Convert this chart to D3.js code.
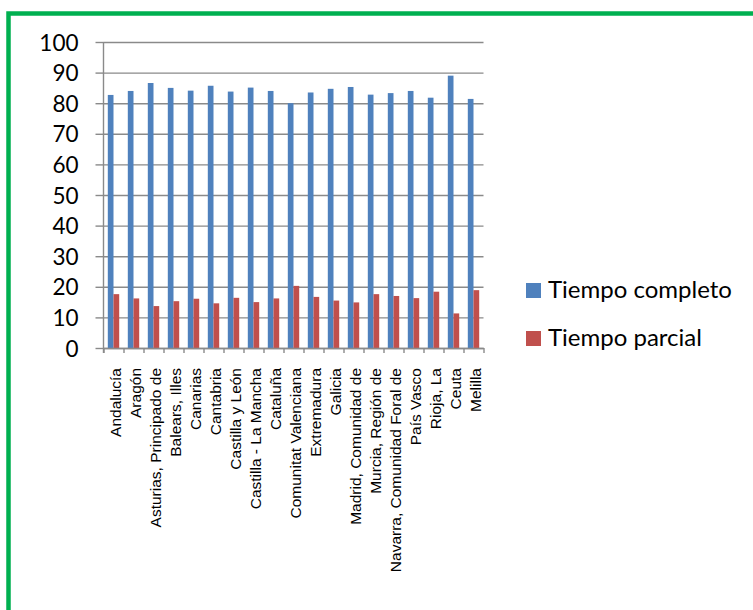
<!DOCTYPE html>
<html>
<head>
<meta charset="utf-8">
<script src="https://cdn.jsdelivr.net/npm/d3@7"></script>
<style>
  html, body { margin: 0; padding: 0; background: #fff; }
  svg { display: block; }
</style>
</head>
<body>
<svg id="chart" width="753" height="610"></svg>
<script>
// Regions (comunidades autónomas) and the share of each contract type (%)
const regions = [
  "Andalucía", "Aragón", "Asturias, Principado de", "Balears, Illes", "Canarias",
  "Cantabria", "Castilla y León", "Castilla - La Mancha", "Cataluña",
  "Comunitat Valenciana", "Extremadura", "Galicia", "Madrid, Comunidad de",
  "Murcia, Región de", "Navarra, Comunidad Foral de", "País Vasco", "Rioja, La",
  "Ceuta", "Melilla"
];
const tiempoCompleto = [82.7, 84.0, 86.6, 85.0, 84.1, 85.7, 83.8, 85.1, 84.0,
  80.0, 83.5, 84.7, 85.3, 82.8, 83.3, 84.0, 81.8, 89.0, 81.4];
const tiempoParcial = [17.6, 16.2, 13.7, 15.3, 16.1, 14.6, 16.4, 15.0, 16.2,
  20.3, 16.7, 15.5, 14.9, 17.6, 17.0, 16.3, 18.4, 11.3, 18.9];
const seriesNames = ["Tiempo completo", "Tiempo parcial"];
const seriesColors = ["#4F81BD", "#C0504D"];
const yTicks = [0, 10, 20, 30, 40, 50, 60, 70, 80, 90, 100];

const rows = regions.map((r, i) => ({ region: r, values: [tiempoCompleto[i], tiempoParcial[i]] }));

const svg = d3.select("#chart");

// green frame around the chart
svg.append("rect")
  .attr("x", 8.5).attr("y", 13.5)
  .attr("width", 800).attr("height", 700)
  .attr("fill", "none")
  .attr("stroke", "#00B050")
  .attr("stroke-width", 4.5);

const plotLeft = 103.5, plotRight = 483.5, plotTop = 42, plotBottom = 348;

const x = d3.scaleBand().domain(regions).range([plotLeft, plotRight]).paddingInner(0).paddingOuter(0);
const bw = x.bandwidth();
const xs = d3.scaleBand().domain(seriesNames).range([bw * 0.215, bw * 0.785]);
const y = d3.scaleLinear().domain([0, 100]).range([plotBottom, plotTop]);

const gridColor = "#8a8a8a";

// horizontal gridlines
svg.append("g")
  .attr("transform", `translate(${plotLeft},0)`)
  .call(d3.axisLeft(y).tickValues(yTicks).tickSize(-(plotRight - plotLeft)).tickFormat(""))
  .call(g => g.select(".domain").remove())
  .call(g => g.selectAll(".tick line").attr("stroke", gridColor).attr("stroke-width", 1.4));

// value axis with outward tick marks and labels
const yAxis = svg.append("g")
  .attr("transform", `translate(${plotLeft},0)`)
  .call(d3.axisLeft(y).tickValues(yTicks).tickSize(8).tickSizeOuter(0).tickPadding(17));
yAxis.select(".domain").remove();
yAxis.selectAll(".tick line").attr("stroke", gridColor).attr("stroke-width", 1.4);
yAxis.selectAll(".tick text")
  .attr("font-family", "Lato, Carlito, Calibri, sans-serif")
  .attr("font-size", 22.5)
  .attr("fill", "#000")
  .attr("dy", "0.36em");

// vertical axis line
svg.append("line")
  .attr("x1", plotLeft).attr("x2", plotLeft)
  .attr("y1", plotTop).attr("y2", plotBottom + 5)
  .attr("stroke", gridColor).attr("stroke-width", 1.4);

// bars
const groups = svg.append("g").selectAll("g")
  .data(rows)
  .join("g")
  .attr("transform", d => `translate(${x(d.region)},0)`);

groups.selectAll("rect")
  .data(d => d.values.map((v, j) => ({ key: seriesNames[j], value: v, color: seriesColors[j] })))
  .join("rect")
  .attr("x", d => xs(d.key))
  .attr("width", xs.bandwidth())
  .attr("y", d => y(d.value))
  .attr("height", d => y(0) - y(d.value))
  .attr("fill", d => d.color);

// category axis: tick marks at category boundaries
const xb = d3.scaleLinear().domain([0, regions.length]).range([plotLeft, plotRight]);
const xAxis = svg.append("g")
  .attr("transform", `translate(0,${plotBottom})`)
  .call(d3.axisBottom(xb).tickValues(d3.range(regions.length + 1)).tickSize(5).tickSizeOuter(0).tickFormat(""));
xAxis.select(".domain").attr("stroke", gridColor).attr("stroke-width", 1.4);
xAxis.selectAll(".tick line").attr("stroke", gridColor).attr("stroke-width", 1.4);

// rotated category labels
svg.append("g").selectAll("text")
  .data(regions)
  .join("text")
  .attr("transform", d => `translate(${x(d) + bw / 2},368) rotate(-90)`)
  .attr("x", 0)
  .attr("y", 7.5)
  .attr("text-anchor", "end")
  .attr("font-family", "Liberation Sans, Arial, sans-serif")
  .attr("font-size", 15.5)
  .attr("fill", "#000")
  .text(d => d);

// legend
const legend = svg.append("g").selectAll("g")
  .data(seriesNames)
  .join("g")
  .attr("transform", (d, i) => `translate(526,${283 + i * 48})`);
legend.append("rect")
  .attr("width", 15).attr("height", 15)
  .attr("fill", (d, i) => seriesColors[i]);
legend.append("text")
  .attr("x", 22)
  .attr("y", 15)
  .attr("font-family", "Lato, Carlito, Calibri, sans-serif")
  .attr("font-size", 24)
  .attr("fill", "#000")
  .text(d => d);
</script>
</body>
</html>
